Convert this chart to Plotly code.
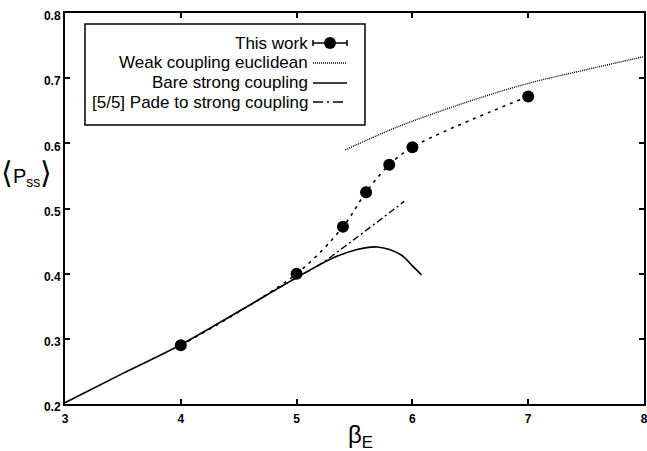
import plotly.graph_objects as go

# ---- data ----
work_beta = [4.0, 5.0, 5.4, 5.6, 5.8, 6.0, 7.0]
work_p = [0.290, 0.400, 0.472, 0.525, 0.567, 0.594, 0.672]
work_err = [0.003, 0.003, 0.003, 0.003, 0.003, 0.003, 0.003]

weak_beta = [5.42, 5.8, 6.0, 6.5, 7.0, 7.5, 8.0]
weak_p = [0.590, 0.620, 0.634, 0.665, 0.692, 0.713, 0.733]

strong_beta = [3.0, 3.5, 4.0, 4.5, 5.0, 5.3, 5.5, 5.7, 5.9, 6.0, 6.08]
strong_p = [0.202, 0.247, 0.291, 0.342, 0.394, 0.423, 0.436, 0.441, 0.429, 0.412, 0.398]

pade_beta = [4.5, 5.0, 5.2, 5.5, 5.93]
pade_p = [0.342, 0.394, 0.414, 0.453, 0.511]

x_ticks = [3, 4, 5, 6, 7, 8]
y_ticks = [0.2, 0.3, 0.4, 0.5, 0.6, 0.7, 0.8]

legend_labels = ["This work", "Weak coupling euclidean", "Bare strong coupling",
                 "[5/5] Pade to strong coupling"]

# ---- layout geometry ----
W_FIG, H_FIG = 647, 451
L, R, T, B = 65, 3, 13, 47
W = W_FIG - L - R
H = H_FIG - T - B


def px(x):
    return (x - L) / W


def py(y):
    return (T + H - y) / H


FONT = "Liberation Sans, Arial, Helvetica, sans-serif"

fig = go.Figure()

fig.add_trace(go.Scatter(
    x=strong_beta, y=strong_p, mode="lines", name=legend_labels[2],
    line=dict(color="black", width=1.6, shape="spline"), showlegend=False))

fig.add_trace(go.Scatter(
    x=pade_beta, y=pade_p, mode="lines", name=legend_labels[3],
    line=dict(color="black", width=1.4, shape="spline", dash="7px,3px,2px,3px"),
    showlegend=False))

fig.add_trace(go.Scatter(
    x=weak_beta, y=weak_p, mode="lines", name=legend_labels[1],
    line=dict(color="black", width=1.4, shape="spline", dash="1px,1px"),
    showlegend=False))

fig.add_trace(go.Scatter(
    x=work_beta, y=work_p, mode="lines", name=legend_labels[0],
    line=dict(color="black", width=1.6, shape="spline", dash="3px,5px"),
    showlegend=False, hoverinfo="skip"))

fig.add_trace(go.Scatter(
    x=work_beta, y=work_p, mode="markers", name=legend_labels[0],
    marker=dict(color="black", size=12, symbol="circle"),
    error_y=dict(type="data", array=work_err, color="black", thickness=1, width=3),
    showlegend=False))

# ---- custom legend (symbols to the right of the text, as in the reference) ----
shapes = []
annotations = []
box = (85, 24, 365, 125)
shapes.append(dict(type="rect", xref="paper", yref="paper",
                   x0=px(box[0]), x1=px(box[2]), y0=py(box[3]), y1=py(box[1]),
                   line=dict(color="black", width=1.5), fillcolor="white", layer="above"))
rows = [43, 63, 83, 102]
text_right = 310
s0, s1 = 313, 347
for lab, yy in zip(legend_labels, rows):
    annotations.append(dict(text=lab, xref="paper", yref="paper", x=px(text_right), y=py(yy),
                            xanchor="right", yanchor="middle", showarrow=False,
                            font=dict(family=FONT, size=17, color="black")))
# This work sample: line with caps and a dot
shapes.append(dict(type="line", xref="paper", yref="paper", x0=px(s0), x1=px(s1),
                   y0=py(rows[0]), y1=py(rows[0]), line=dict(color="black", width=1.5)))
for xc in (s0, s1):
    shapes.append(dict(type="line", xref="paper", yref="paper", x0=px(xc), x1=px(xc),
                       y0=py(rows[0] - 3), y1=py(rows[0] + 3), line=dict(color="black", width=1.5)))
cx = (s0 + s1) / 2
shapes.append(dict(type="circle", xref="paper", yref="paper", x0=px(cx - 6), x1=px(cx + 6),
                   y0=py(rows[0] + 6), y1=py(rows[0] - 6), fillcolor="black",
                   line=dict(color="black", width=0)))
shapes.append(dict(type="line", xref="paper", yref="paper", x0=px(s0), x1=px(s1),
                   y0=py(rows[1]), y1=py(rows[1]), line=dict(color="black", width=1.4, dash="1px,1px")))
shapes.append(dict(type="line", xref="paper", yref="paper", x0=px(s0), x1=px(s1),
                   y0=py(rows[2]), y1=py(rows[2]), line=dict(color="black", width=1.6)))
shapes.append(dict(type="line", xref="paper", yref="paper", x0=px(s0), x1=px(s1),
                   y0=py(rows[3]), y1=py(rows[3]),
                   line=dict(color="black", width=1.4, dash="10px,4px,2px,4px")))

# ---- axis titles ----
annotations.append(dict(
    text="<span style='font-size:30px'>⟨</span>P<sub>ss</sub><span style='font-size:30px'>⟩</span>",
    xref="paper", yref="paper", x=px(26), y=py(173), xanchor="center", yanchor="middle",
    showarrow=False, font=dict(family=FONT, size=20, color="black")))
annotations.append(dict(
    text="β<sub>E</sub>", xref="paper", yref="paper", x=px(360), y=py(436),
    xanchor="center", yanchor="middle", showarrow=False,
    font=dict(family=FONT, size=24, color="black")))

axis_common = dict(
    showline=True, linecolor="black", linewidth=2, mirror="ticks",
    ticks="inside", ticklen=5, tickwidth=2, tickcolor="black",
    showgrid=False, zeroline=False, automargin=False,
    tickfont=dict(family=FONT, size=12, color="black", weight="bold"),
)

fig.update_layout(
    width=W_FIG, height=H_FIG,
    margin=dict(l=L, r=R, t=T, b=B, autoexpand=False),
    paper_bgcolor="white", plot_bgcolor="white",
    showlegend=False,
    xaxis=dict(range=[3, 8], tickvals=x_ticks, ticktext=[str(v) for v in x_ticks],
               ticklabelstandoff=3, ticklabeloverflow="allow", **axis_common),
    yaxis=dict(range=[0.2, 0.8], tickvals=y_ticks, ticktext=[f"{v:.1f}" for v in y_ticks],
               ticklabelshift=3, **axis_common),
    shapes=shapes,
    annotations=annotations,
)

fig.write_html("out.html", config={"displayModeBar": False},
               post_script="document.body.style.margin='0';document.body.style.padding='0';")
